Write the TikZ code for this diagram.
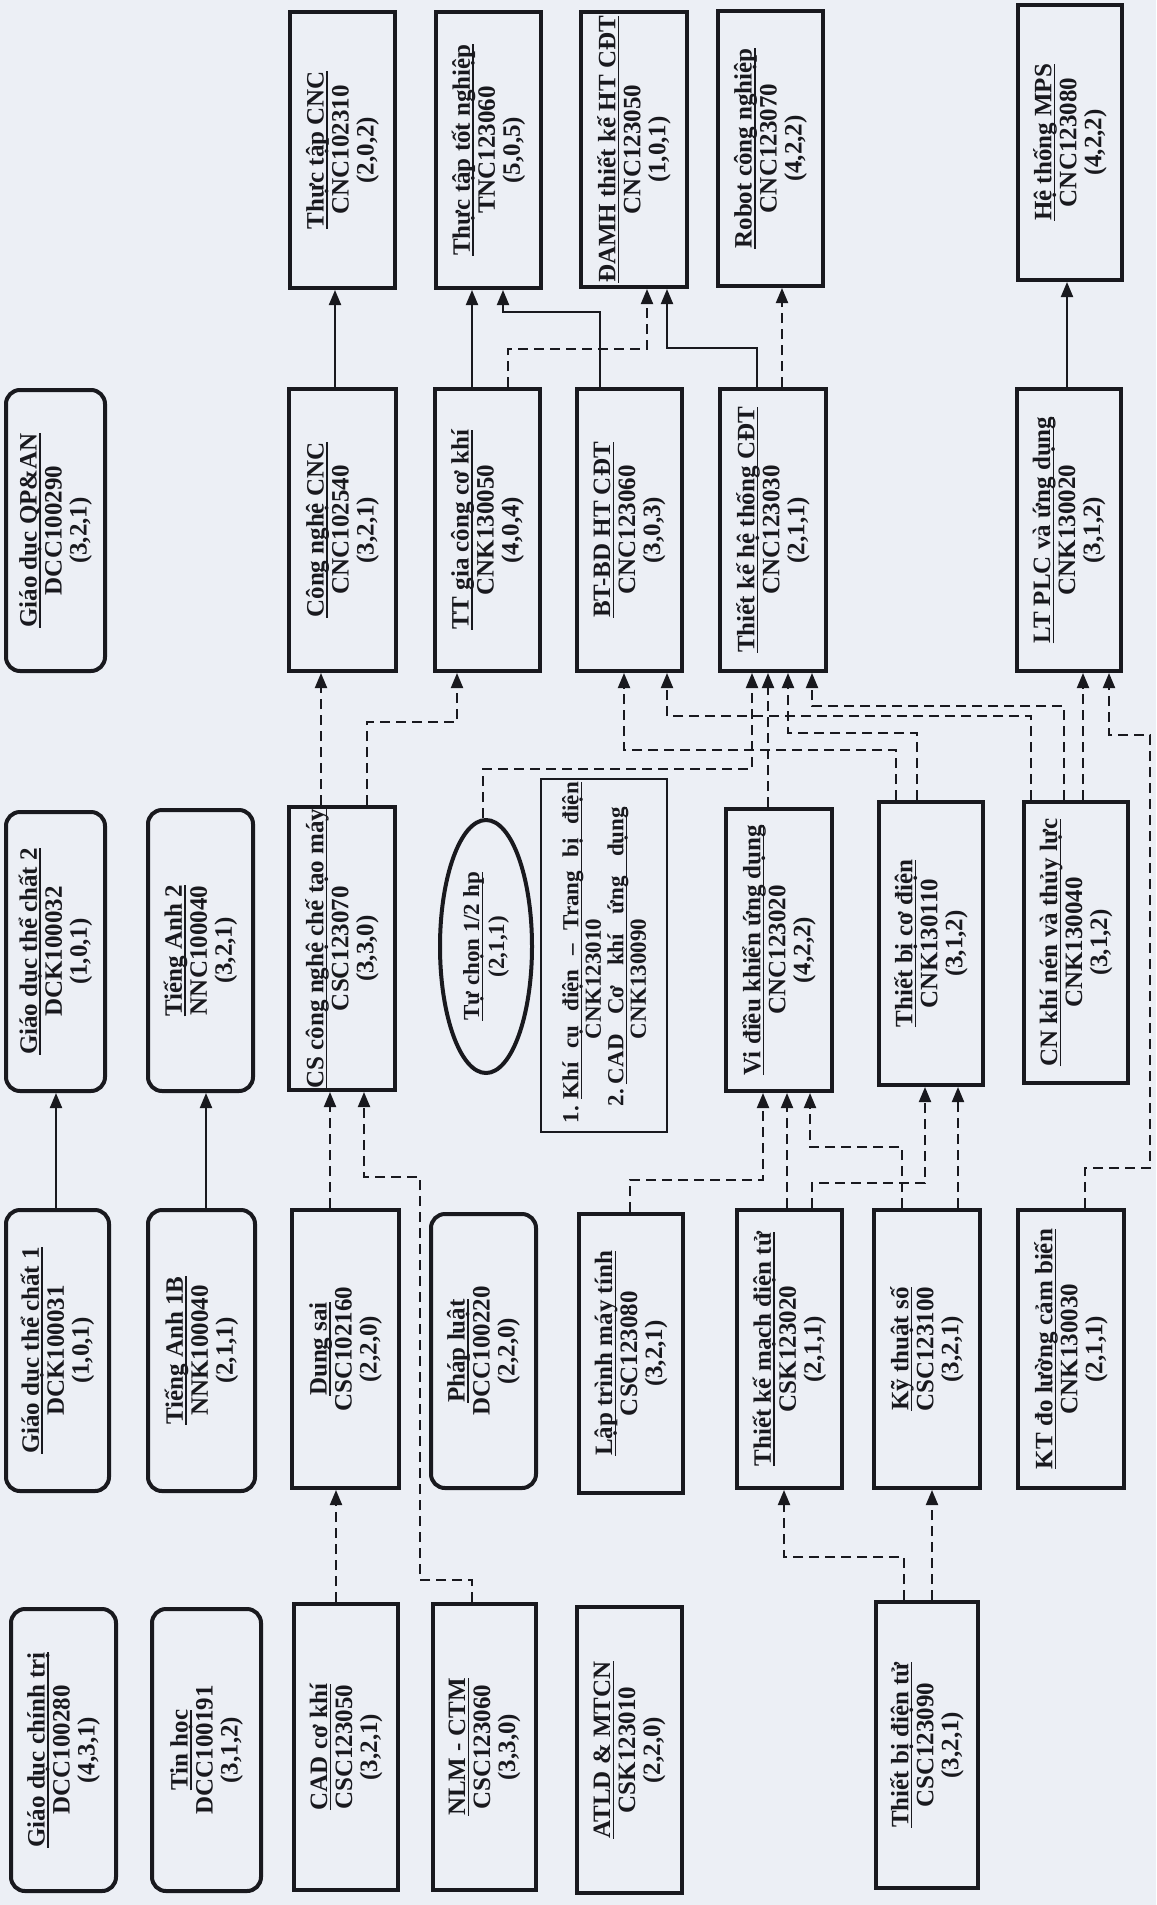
\documentclass[tikz,border=0pt]{standalone}
\usepackage{fontspec}
\setmainfont{Liberation Serif}
\usetikzlibrary{arrows.meta,shapes.geometric}
\definecolor{ink}{RGB}{25,25,30}
\definecolor{bg}{RGB}{236,239,245}
\newcommand\bxfont{\fontsize{25}{25}\selectfont\bfseries}
\newcommand\ttl[1]{\leavevmode\setbox0=\hbox{#1}\rlap{\rule[-4pt]{\wd0}{1.5pt}}\box0}
\newcommand\spreadto[2]{\hbox to #1{\spaceskip=6pt plus 1fil\relax #2}}
\newcommand\cbox[7]{\node[#2, minimum width={#6-#4-4}, minimum height={#5-#3-4}] (#1) at ({(#3+#5)/2},{(#4+#6)/2}) {#7};}
\tikzset{
  bx/.style={draw=ink, line width=4pt, inner sep=0pt, align=center, rotate=90, font=\bxfont, text=ink},
  rbx/.style={bx, rounded corners=14pt},
  tbx/.style={draw=ink, line width=1.8pt, inner sep=0pt, rotate=90, font=\fontsize{23}{22.5}\selectfont\bfseries, text=ink},
  ell/.style={ellipse, draw=ink, line width=4pt, inner sep=0pt, align=center, rotate=90, font=\fontsize{23}{25}\selectfont\bfseries, text=ink},
  sol/.style={draw=ink, line width=2pt, -{Triangle[length=15pt,width=12pt]}},
  dsh/.style={sol, dash pattern=on 10pt off 6pt},
}
\begin{document}
\begin{tikzpicture}[x=1pt,y=-1pt]
\useasboundingbox (0,0) rectangle (1156,1905);
\fill[bg] (0,0) rectangle (1156,1905);
% Row 1
\cbox{ttcnc}{bx}{288}{10}{397}{290}{\ttl{Thực tập CNC}\\CNC102310\\(2,0,2)}
\cbox{tttn}{bx}{434}{10}{543}{290}{\ttl{Thực tập tốt nghiệp}\\TNC123060\\(5,0,5)}
\cbox{damh}{bx}{579}{10}{689}{289}{\ttl{ĐAMH thiết kế HT CĐT}\\CNC123050\\(1,0,1)}
\cbox{robot}{bx}{716}{9}{825}{288}{\ttl{Robot công nghiệp}\\CNC123070\\(4,2,2)}
\cbox{mps}{bx}{1016}{3}{1124}{282}{\ttl{Hệ thống MPS}\\CNC123080\\(4,2,2)}
% Row 2
\cbox{gdqp}{rbx}{4}{388}{107}{673}{\ttl{Giáo dục QP\&AN}\\DCC100290\\(3,2,1)}
\cbox{cnc}{bx}{287}{387}{398}{673}{\ttl{Công nghệ CNC}\\CNC102540\\(3,2,1)}
\cbox{ttgc}{bx}{433}{387}{542}{673}{\ttl{TT gia công cơ khí}\\CNK130050\\(4,0,4)}
\cbox{btbd}{bx}{575}{387}{684}{673}{\ttl{BT-BD HT CĐT}\\CNC123060\\(3,0,3)}
\cbox{tkht}{bx}{718}{387}{828}{673}{\ttl{Thiết kế hệ thống CĐT}\\CNC123030\\(2,1,1)}
\cbox{ltplc}{bx}{1015}{387}{1123}{673}{\ttl{LT PLC và ứng dụng}\\CNK130020\\(3,1,2)}
% Row 3
\cbox{gdtc2}{rbx}{4}{810}{107}{1093}{\ttl{Giáo dục thể chất 2}\\DCK100032\\(1,0,1)}
\cbox{ta2}{rbx}{146}{808}{255}{1093}{\ttl{Tiếng Anh 2}\\NNC100040\\(3,2,1)}
\cbox{cs}{bx}{287}{805}{397}{1092}{\makebox[0pt]{\ttl{CS công nghệ chế tạo máy}}\\CSC123070\\(3,3,0)}
\node[ell, minimum width=253, minimum height=92] (tuchon) at (486,946.5) {\ttl{Tự chọn 1/2 hp}\\(2,1,1)};
\node[tbx, text width=353pt, align=left, minimum width=353, minimum height=126] (khicu) at (604,955.5) {%
\hspace*{9pt}\makebox[17pt][l]{1.}\hspace{7pt}\ttl{\spreadto{317pt}{Khí cụ điện – Trang bị điện}}\\
\hspace*{93pt}CNK123010\\
\hspace*{26pt}\makebox[17pt][l]{2.}\hspace{5pt}\ttl{\spreadto{277pt}{CAD Cơ khí ứng dụng}}\\
\hspace*{93pt}CNK130090};
\cbox{vdk}{bx}{724}{807}{834}{1093}{\ttl{Vi điều khiển ứng dụng}\\CNC123020\\(4,2,2)}
\cbox{tbcd}{bx}{877}{800}{985}{1087}{\ttl{Thiết bị cơ điện}\\CNK130110\\(3,1,2)}
\cbox{cnkn}{bx}{1022}{800}{1130}{1085}{\ttl{CN khí nén và thủy lực}\\CNK130040\\(3,1,2)}
% Row 4
\cbox{gdtc1}{rbx}{4}{1208}{111}{1493}{\ttl{Giáo dục thể chất 1}\\DCK100031\\(1,0,1)}
\cbox{ta1b}{rbx}{146}{1208}{257}{1493}{\ttl{Tiếng Anh 1B}\\NNK100040\\(2,1,1)}
\cbox{dungsai}{bx}{290}{1208}{401}{1490}{\ttl{Dung sai}\\CSC102160\\(2,2,0)}
\cbox{phapluat}{rbx}{429}{1212}{538}{1490}{\ttl{Pháp luật}\\DCC100220\\(2,2,0)}
\cbox{laptrinh}{bx}{577}{1212}{685}{1495}{\ttl{Lập trình máy tính}\\CSC123080\\(3,2,1)}
\cbox{tkm}{bx}{735}{1208}{844}{1490}{\ttl{Thiết kế mạch điện tử}\\CSK123020\\(2,1,1)}
\cbox{kts}{bx}{872}{1208}{982}{1490}{\ttl{Kỹ thuật số}\\CSC123100\\(3,2,1)}
\cbox{ktdl}{bx}{1016}{1208}{1126}{1490}{\ttl{KT đo lường cảm biến}\\CNK130030\\(2,1,1)}
% Row 5
\cbox{gdct}{rbx}{9}{1607}{118}{1893}{\ttl{Giáo dục chính trị}\\DCC100280\\(4,3,1)}
\cbox{tinhoc}{rbx}{150}{1607}{263}{1893}{\ttl{Tin học}\\DCC100191\\(3,1,2)}
\cbox{cad}{bx}{292}{1602}{400}{1892}{\ttl{CAD cơ khí}\\CSC123050\\(3,2,1)}
\cbox{nlm}{bx}{431}{1602}{538}{1892}{\ttl{NLM - CTM}\\CSC123060\\(3,3,0)}
\cbox{atld}{bx}{575}{1605}{684}{1895}{\ttl{ATLD \& MTCN}\\CSK123010\\(2,2,0)}
\cbox{tbdt}{bx}{874}{1600}{980}{1890}{\ttl{Thiết bị điện tử}\\CSC123090\\(3,2,1)}
% Solid connectors
\draw[sol] (cnc.east -| 335,0) -- (ttcnc.west -| 335,0);
\draw[sol] (ttgc.east -| 472,0) -- (tttn.west -| 472,0);
\draw[sol] (btbd.east -| 600,0) |- (503,312) -- (tttn.west -| 503,0);
\draw[sol] (tkht.east -| 757,0) |- (667,348) -- (damh.west -| 667,0);
\draw[sol] (ltplc.east -| 1067,0) -- (mps.west -| 1067,0);
\draw[sol] (gdtc1.east -| 56,0) -- (gdtc2.west -| 56,0);
\draw[sol] (ta1b.east -| 206,0) -- (ta2.west -| 206,0);
% Dashed connectors
\draw[dsh] (ttgc.east -| 508,0) |- (647,349) -- (damh.west -| 647,0);
\draw[dsh] (tkht.east -| 782,0) -- (robot.west -| 782,0);
\draw[dsh] (cs.east -| 321,0) -- (cnc.west -| 321,0);
\draw[dsh] (cs.east -| 367,0) |- (457,722) -- (ttgc.west -| 457,0);
\draw[dsh] (tuchon.east -| 483,0) |- (752,769) -- (tkht.west -| 752,0);
\draw[dsh] (vdk.east -| 768,0) -- (tkht.west -| 768,0);
\draw[dsh] (tbcd.east -| 896,0) |- (624,750) -- (btbd.west -| 624,0);
\draw[dsh] (tbcd.east -| 917,0) |- (788,733) -- (tkht.west -| 788,0);
\draw[dsh] (cnkn.east -| 1031,0) |- (667,716) -- (btbd.west -| 667,0);
\draw[dsh] (cnkn.east -| 1064,0) |- (812,706) -- (tkht.west -| 812,0);
\draw[dsh] (cnkn.east -| 1083,0) -- (ltplc.west -| 1083,0);
\draw[dsh] (ktdl.east -| 1085,0) |- (1150,1168) |- (1109,735) -- (ltplc.west -| 1109,0);
\draw[dsh] (dungsai.east -| 330,0) -- (cs.west -| 330,0);
\draw[dsh] (nlm.east -| 472,0) |- (420,1580) |- (364,1177) -- (cs.west -| 364,0);
\draw[dsh] (cad.east -| 336,0) -- (dungsai.west -| 336,0);
\draw[dsh] (laptrinh.east -| 630,0) |- (763,1180) -- (vdk.west -| 763,0);
\draw[dsh] (tkm.east -| 787,0) -- (vdk.west -| 787,0);
\draw[dsh] (kts.east -| 902,0) |- (810,1147) -- (vdk.west -| 810,0);
\draw[dsh] (tkm.east -| 812,0) |- (925,1183) -- (tbcd.west -| 925,0);
\draw[dsh] (kts.east -| 958,0) -- (tbcd.west -| 958,0);
\draw[dsh] (tbdt.east -| 904,0) |- (784,1557) -- (tkm.west -| 784,0);
\draw[dsh] (tbdt.east -| 932,0) -- (kts.west -| 932,0);
\end{tikzpicture}
\end{document}
